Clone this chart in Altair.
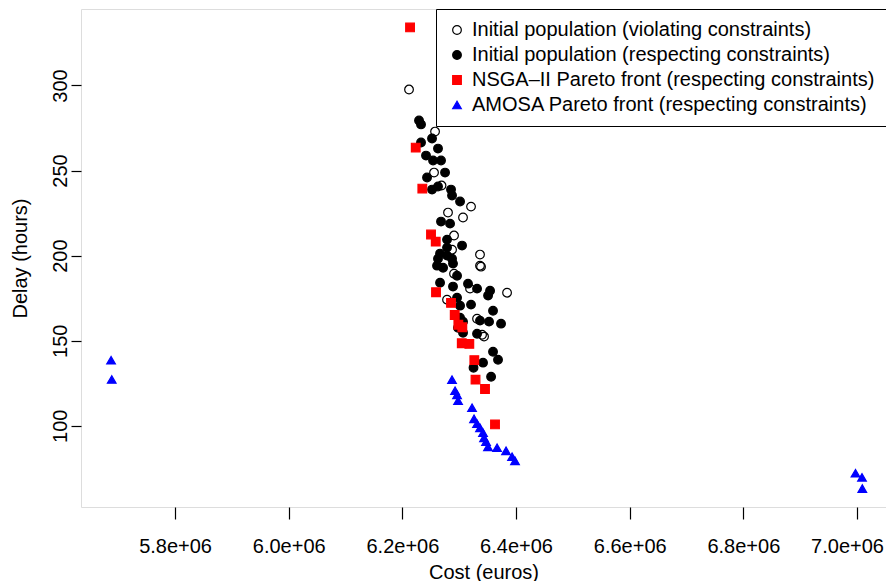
import altair as alt
import pandas as pd

series_names = [
    "Initial population (violating constraints)",
    "Initial population (respecting constraints)",
    "NSGA\u2013II Pareto front (respecting constraints)",
    "AMOSA Pareto front (respecting constraints)",
]

violating_cost = [6211700, 6257500, 6255700, 6268900, 6320800, 6280300, 6306700, 6290900,
                  6336600, 6336600, 6338400, 6290900, 6319100, 6384200, 6278600, 6331400,
                  6340200, 6343700, 6287400]
violating_delay = [297.6, 272.9, 248.8, 241.2, 228.8, 225.3, 222.4, 211.8,
                   200.6, 194.1, 193.5, 189.4, 180.6, 178.2, 174.1, 162.9,
                   153.5, 152.4, 203.5]

respecting_cost = [6229300, 6232800, 6252200, 6232800, 6262700, 6241600, 6254000, 6268000,
                   6275100, 6243400, 6252200, 6262700, 6285600, 6287400, 6301500, 6268000,
                   6283900, 6278600, 6305000, 6278600, 6262700, 6266300, 6278600, 6287400,
                   6289100, 6261000, 6271600, 6296200, 6266300, 6289100, 6315500, 6331400,
                   6354300, 6350800, 6296200, 6301500, 6320800, 6359500, 6336600, 6352500,
                   6373600, 6301500, 6306700, 6297900, 6331400, 6306700, 6359500, 6341900,
                   6368300, 6325200, 6356100]
respecting_delay = [279.4, 277.1, 268.8, 266.5, 262.9, 258.8, 255.9, 255.9,
                    248.8, 245.9, 238.8, 240.6, 238.8, 235.3, 231.8, 220.0,
                    218.8, 209.4, 205.9, 204.7, 198.2, 201.2, 200.0, 198.2,
                    195.3, 194.1, 192.9, 188.2, 184.1, 181.8, 183.5, 180.6,
                    179.4, 176.5, 175.3, 170.6, 171.2, 167.6, 161.8, 161.2,
                    160.0, 163.5, 161.2, 157.6, 154.1, 154.7, 143.5, 137.1,
                    138.8, 134.1, 128.8]

nsga_cost = [6213500, 6223500, 6235100, 6250400, 6258700, 6259200, 6285600, 6292100,
             6298500, 6305500, 6304500, 6317800, 6326600, 6328700, 6345400, 6363000]
nsga_delay = [334.1, 263.5, 239.4, 212.4, 208.2, 178.5, 172.2, 165.1,
              159.4, 157.9, 148.5, 148.1, 138.6, 127.1, 121.6, 100.8]

amosa_cost = [5687400, 5688600, 6287400, 6292700, 6296200, 6298000, 6322600, 6326100,
              6331400, 6336600, 6341900, 6343700, 6347200, 6350700, 6366600, 6382400,
              6393000, 6398200, 6997300, 7008800, 7009300]
amosa_delay = [138.5, 127.2, 127.1, 120.6, 118.2, 114.7, 110.6, 104.1,
               101.2, 98.8, 95.9, 92.9, 90.6, 87.6, 87.1, 85.3,
               81.8, 79.4, 72.1, 69.7, 63.1]

x_ticks = [5800000, 6000000, 6200000, 6400000, 6600000, 6800000, 7000000]
y_ticks = [100, 150, 200, 250, 300]

frames = []
for name, c, d in zip(series_names,
                      [violating_cost, respecting_cost, nsga_cost, amosa_cost],
                      [violating_delay, respecting_delay, nsga_delay, amosa_delay]):
    frames.append(pd.DataFrame({"cost": c, "delay": d, "series": name}))
df = pd.concat(frames, ignore_index=True)
df["order"] = df["series"].map({n: i for i, n in enumerate(series_names)})

FONT = "Liberation Sans"
FS = 20

leg = alt.Legend(
    title=None, orient="top-right", offset=0, padding=11,
    strokeColor="black", fillColor="white", cornerRadius=0,
    labelFontSize=FS, labelFont=FONT, labelColor="black", labelLimit=0,
    rowPadding=5, labelOffset=5, symbolStrokeWidth=1.2,
)

chart = alt.Chart(df).mark_point(opacity=1, strokeWidth=1.2).encode(
    x=alt.X("cost:Q",
            scale=alt.Scale(domain=[5634500, 7051000], nice=False, zero=False),
            axis=alt.Axis(values=x_ticks,
                          labelExpr="format(datum.value / 1000000, '.1f') + 'e+06'",
                          labelOffset={"condition": {"test": "datum.value >= 6900000", "value": -10},
                                       "value": 0},
                          title="Cost (euros)", domain=False, grid=False,
                          tickSize=12, tickWidth=1.2, tickColor="black",
                          labelPadding=17, titlePadding=6,
                          labelFontSize=FS, titleFontSize=FS, titleFontWeight="normal",
                          labelFont=FONT, titleFont=FONT,
                          labelColor="black", titleColor="black")),
    y=alt.Y("delay:Q",
            scale=alt.Scale(domain=[52.26, 344.94], nice=False, zero=False),
            axis=alt.Axis(values=y_ticks, title="Delay (hours)", domain=False, grid=False,
                          tickSize=10, tickWidth=1.2, tickColor="black",
                          labelAngle=270, labelAlign="center", labelBaseline="bottom",
                          labelPadding=1, titlePadding=20,
                          labelFontSize=FS, titleFontSize=FS, titleFontWeight="normal",
                          labelFont=FONT, titleFont=FONT,
                          labelColor="black", titleColor="black")),
    shape=alt.Shape("series:N", scale=alt.Scale(domain=series_names,
                    range=["circle", "circle", "square", "triangle-up"]), legend=leg),
    fill=alt.Fill("series:N", scale=alt.Scale(domain=series_names,
                  range=["transparent", "black", "red", "blue"]), legend=leg),
    stroke=alt.Stroke("series:N", scale=alt.Scale(domain=series_names,
                      range=["black", "black", "red", "blue"]), legend=leg),
    size=alt.Size("series:N", scale=alt.Scale(domain=series_names,
                  range=[75, 75, 64, 110]), legend=leg),
    order=alt.Order("order:Q"),
).properties(
    width=805, height=498,
    padding={"left": 73, "top": 1, "right": 0, "bottom": 74},
    autosize=alt.AutoSizeParams(type="none"),
).configure_view(
    stroke="black", strokeWidth=1.2
).configure(font=FONT)

chart.save("out.html", embed_options={"renderer": "svg", "actions": False})
